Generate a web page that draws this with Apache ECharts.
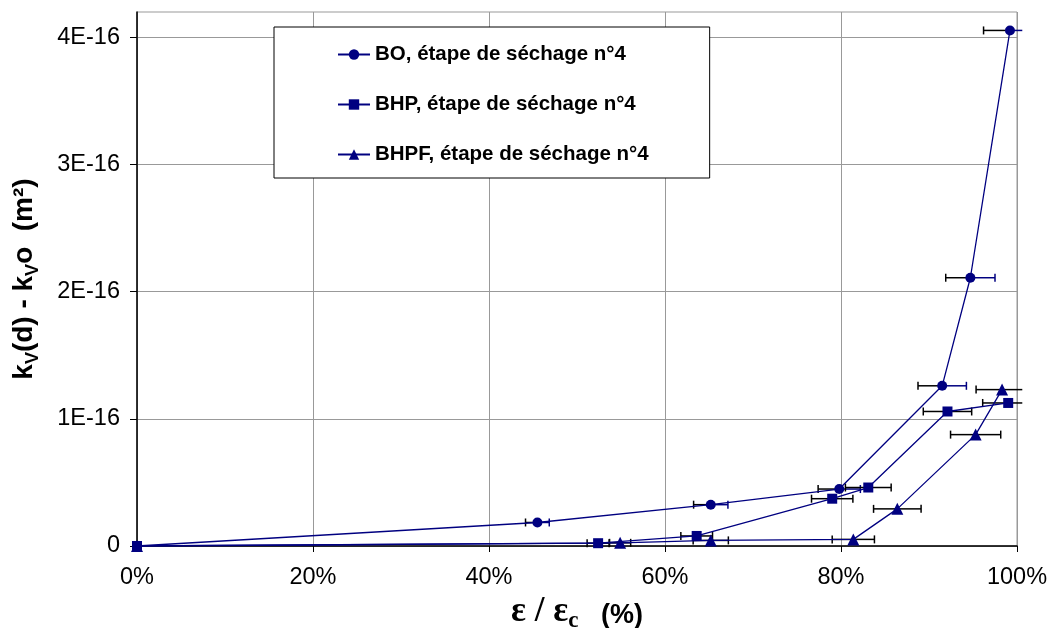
<!DOCTYPE html>
<html><head><meta charset="utf-8">
<script src="https://cdn.jsdelivr.net/npm/echarts@6/dist/echarts.min.js"></script>
<style>html,body{margin:0;padding:0;background:#fff}#c{width:1050px;height:628px}</style>
</head><body><div id="c"></div>
<script>
// Series names
const seriesNames = ['BO, étape de séchage n°4', 'BHP, étape de séchage n°4', 'BHPF, étape de séchage n°4'];
// ε/εc (%) , kv(d)-kvo in units of 1E-16 m², horizontal error (± %)
const boX   = [0, 45.5, 65.2, 79.8, 91.5, 94.7, 99.2];
const boY   = [0, 0.185, 0.325, 0.448, 1.26, 2.11, 4.055];
const boErr = [0, 1.35, 1.95, 2.4, 2.75, 2.8, 3.0];
const bhpX   = [0, 52.4, 63.6, 79.0, 83.1, 92.1, 99.0];
const bhpY   = [0, 0.022, 0.079, 0.372, 0.46, 1.058, 1.125];
const bhpErr = [0, 1.25, 1.8, 2.35, 2.6, 2.75, 2.9];
const bhpfX   = [0, 54.9, 65.2, 81.4, 86.4, 95.3, 98.3];
const bhpfY   = [0, 0.025, 0.044, 0.052, 0.292, 0.876, 1.23];
const bhpfErr = [0, 1.2, 2.0, 2.4, 2.7, 2.85, 2.95];
const yTickValues = [0, 1, 2, 3, 4];

const NAVY = '#000080';
const chart = echarts.init(document.getElementById('c'), null, {renderer: 'canvas'});

function errRender(plusColor) {
  return function (params, api) {
    const x = api.value(0), y = api.value(1), e = api.value(2);
    if (!e) return null;
    const c = api.coord([x, y]);
    const l = api.coord([x - e, y]);
    const rRaw = x + e;
    const clipped = rRaw > 100.6;
    const r = api.coord([Math.min(rRaw, 100.6), y]);
    const h = 4;
    const st = (col) => ({stroke: col, lineWidth: 1.5});
    const ch = [
      {type: 'line', shape: {x1: l[0], y1: c[1], x2: c[0], y2: c[1]}, style: st('#000')},
      {type: 'line', shape: {x1: l[0], y1: c[1] - h, x2: l[0], y2: c[1] + h}, style: st('#000')},
      {type: 'line', shape: {x1: c[0], y1: c[1], x2: r[0], y2: c[1]}, style: st(plusColor)}
    ];
    if (!clipped) ch.push({type: 'line', shape: {x1: r[0], y1: c[1] - h, x2: r[0], y2: c[1] + h}, style: st(plusColor)});
    return {type: 'group', children: ch};
  };
}
const zip3 = (a, b, c) => a.map((v, i) => [v, b[i], c[i]]);
const zip2 = (a, b) => a.map((v, i) => [v, b[i]]);

const mainTok = {fontFamily: 'Liberation Sans, Arial', fontWeight: 'bold', fontSize: 28, lineHeight: 32, verticalAlign: 'bottom', padding: [0, 0, 4, 0], color: '#000'};
const subTok = {fontFamily: 'Liberation Sans, Arial', fontWeight: 'bold', fontSize: 18, lineHeight: 21, verticalAlign: 'bottom', color: '#000'};

const lineSeries = (name, xs, ys, sym, size) => ({
  name, type: 'line', data: zip2(xs, ys), symbol: sym, symbolSize: size,
  itemStyle: {color: NAVY}, lineStyle: {color: NAVY, width: 1.3}, z: 5
});
const errSeries = (xs, ys, es, plus) => ({
  type: 'custom', data: zip3(xs, ys, es), renderItem: errRender(plus), clip: false, z: 3, silent: true,
  encode: {x: 0, y: 1}
});

chart.setOption({
  animation: false,
  backgroundColor: '#fff',
  grid: {left: 137, right: 33, top: 12, bottom: 82, outerBoundsMode: 'none', containLabel: false,
         show: true, borderColor: '#999', borderWidth: 1, backgroundColor: 'transparent'},
  legend: {
    data: seriesNames, orient: 'vertical', left: 274, top: 27,
    padding: [17, 61, 13, 63], itemGap: 29, itemWidth: 32, itemHeight: 13,
    backgroundColor: '#fff', borderColor: '#000', borderWidth: 1, selectedMode: false,
    textStyle: {fontFamily: 'Liberation Sans, Arial', fontWeight: 'bold', fontSize: 20.5, lineHeight: 20, color: '#000'}
  },
  xAxis: {
    type: 'value', min: 0, max: 100, interval: 20,
    axisLine: {show: true, lineStyle: {color: '#000', width: 1.5}},
    axisTick: {show: true, length: 6, lineStyle: {color: '#000'}},
    splitLine: {show: true, lineStyle: {color: '#999', width: 1}},
    axisLabel: {formatter: v => v + '%', fontFamily: 'Liberation Sans, Arial', fontSize: 23.5, color: '#000', margin: 20},
    name: '{e|ε / ε}{c|c}{p|   (%)}', nameLocation: 'middle', nameGap: 48,
    nameTextStyle: {
      rich: {
        e: {fontFamily: 'Liberation Serif, Times New Roman', fontWeight: 'bold', fontSize: 35, lineHeight: 36, verticalAlign: 'bottom', padding: [0, 0, 3, 0], color: '#000'},
        c: {fontFamily: 'Liberation Serif, Times New Roman', fontWeight: 'bold', fontSize: 23, lineHeight: 24, verticalAlign: 'bottom', color: '#000'},
        p: {fontFamily: 'Liberation Sans, Arial', fontWeight: 'bold', fontSize: 27, lineHeight: 31, verticalAlign: 'bottom', padding: [0, 0, 4, 0], color: '#000'}
      }
    }
  },
  yAxis: {
    type: 'value', min: 0, max: 4.2, interval: 1,
    axisLine: {show: true, lineStyle: {color: '#000', width: 1.5}},
    axisTick: {show: true, length: 7, customValues: yTickValues, lineStyle: {color: '#000'}},
    splitLine: {show: true, lineStyle: {color: '#999', width: 1}},
    axisLabel: {customValues: yTickValues, formatter: v => v === 0 ? '0' : v + 'E-16', fontFamily: 'Liberation Sans, Arial', fontSize: 23.5, color: '#000', margin: 17},
    name: '{a|k}{s|V}{a|(d) - k}{s|V}{a|o  (m²)}', nameLocation: 'middle', nameGap: 95, nameRotate: 90,
    nameTextStyle: {rich: {a: mainTok, s: subTok}}
  },
  series: [
    errSeries(boX, boY, boErr, NAVY),
    errSeries(bhpX, bhpY, bhpErr, '#000'),
    errSeries(bhpfX, bhpfY, bhpfErr, '#000'),
    lineSeries(seriesNames[0], boX, boY, 'circle', 10),
    lineSeries(seriesNames[1], bhpX, bhpY, 'rect', 10),
    lineSeries(seriesNames[2], bhpfX, bhpfY, 'triangle', 12)
  ]
});
</script></body></html>
